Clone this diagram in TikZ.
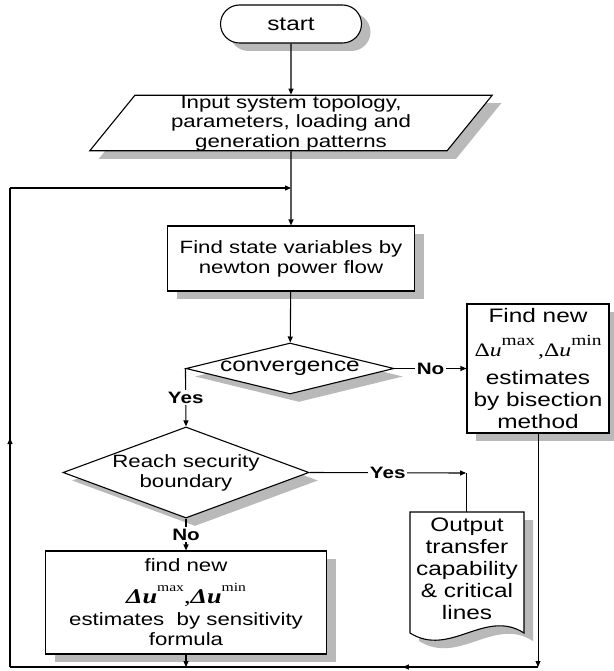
\documentclass[tikz,border=0pt]{standalone}
\usepackage{fontspec}
\setmainfont{Liberation Sans}[FakeStretch=1.25]
\newfontfamily\tnr{Liberation Serif}[FakeStretch=1.25]
\usetikzlibrary{arrows.meta, shapes.geometric, shapes.misc, shadows, decorations.markings}

\newcommand{\dsup}[2]{\raisebox{0.6em}{\fontsize{#1}{#1}\selectfont #2}}

\begin{document}
\begin{tikzpicture}[x=1pt, y=-1pt, line width=1.1pt,
  >={Triangle[length=6pt, width=5pt]},
  dropsh/.style={drop shadow={shadow xshift=9pt, shadow yshift=-8pt, fill=gray!55, opacity=1}},
  smalltxt/.style={font=\fontsize{17.8}{20}\selectfont},
  bigtxt/.style={font=\fontsize{19.5}{22}\selectfont},
  proc/.style={draw, fill=white, dropsh, align=center, inner sep=0pt},
  decide/.style={diamond, draw, fill=white, dropsh, align=center, inner sep=0pt},
  lbl/.style={font=\bfseries\fontsize{16.5}{18}\selectfont, fill=white, inner sep=1.5pt},
  thinline/.style={line width=0.8pt},
  arrowat/.style={postaction={decorate}, decoration={markings,
    mark=at position #1 with {\arrow{Triangle[length=6pt, width=5pt]}}}}]
  \useasboundingbox (0,0) rectangle (613,671);

  % boxes
  \node[proc, rounded rectangle, bigtxt, minimum width=141pt, minimum height=38pt] (start) at (291,24) {start};
  \node[proc, trapezium, trapezium left angle=58, trapezium right angle=122, trapezium stretches,
    minimum width=404pt, minimum height=54pt, font=\fontsize{17.8}{19.5}\selectfont] (inp) at (291,123)
    {Input system topology,\\parameters, loading and\\generation patterns};
  \node[proc, smalltxt, minimum width=247pt, minimum height=65pt] (state) at (291,258.5)
    {Find state variables by\\newton power flow};
  \node[decide, bigtxt, aspect=4, minimum width=208pt, minimum height=51pt] (conv) at (290,368.5) {convergence};
  \node[proc, bigtxt, minimum width=142pt, minimum height=129pt] (bisec) at (538,368.5)
    {Find new\\[12pt]{\tnr\fontsize{19}{22}\selectfont Δ\textit{u}\dsup{15.5}{max}\,,Δ\textit{u}\dsup{15.5}{min}}\\[6pt]estimates\\by bisection\\method};
  \node[decide, smalltxt, aspect=2.7, minimum width=245pt, minimum height=91pt] (reach) at (186,472.5)
    {Reach security\\boundary};
  \node[proc, smalltxt, minimum width=281pt, minimum height=103pt] (sens) at (186,602.5)
    {find new\\[10pt]{\tnr\fontsize{21}{22}\selectfont\textbf{\textit{Δu}}\dsup{12.5}{max},\textbf{\textit{Δu}}\dsup{12.5}{min}}\\[2pt]estimates\ \ by sensitivity\\formula};

  % output document
  \fill[gray!55, shift={(9,8)}] (410,512) -- (524,512) -- (524,633)
    .. controls (485,608) and (450,658) .. (410,633) -- cycle;
  \draw[fill=white] (410,512) -- (524,512) -- (524,633)
    .. controls (485,608) and (450,658) .. (410,633) -- cycle;
  \node[bigtxt, align=center] (outp) at (467,569) {Output\\transfer\\capability\\\& critical\\lines};

  \coordinate (merge) at (291,188);
  \coordinate (lefttop) at (10,188);
  \coordinate (leftbot) at (10,667);
  \coordinate (rightbot) at (538,667);
  \coordinate (sensbot) at (186,667);
  \coordinate (yesturn) at (466,473);
  \coordinate (doctop) at (466,512);

  % connectors
  \draw[->] (start) -- (inp);
  \draw[->] (inp) -- (state);
  \draw[->] (state) -- (conv);
  \draw[->] (conv) -- node[lbl] {No} (bisec);
  \draw[->] (conv.west) -- node[lbl] {Yes} (reach.north);
  \draw[->] (reach.east) -- node[lbl] {Yes} (yesturn);
  \draw[thinline] (yesturn) -- (doctop);
  \draw[->] (reach) -- node[lbl] {No} (sens);
  \draw[->] (sens) -- (sensbot);
  \draw[thinline, ->] (bisec) -- (rightbot);
  \draw[arrowat=0.256] (rightbot) -- (leftbot);
  \draw[arrowat=0.478] (leftbot) -- (lefttop);
  \draw[->] (lefttop) -- (merge);
\end{tikzpicture}
\end{document}
